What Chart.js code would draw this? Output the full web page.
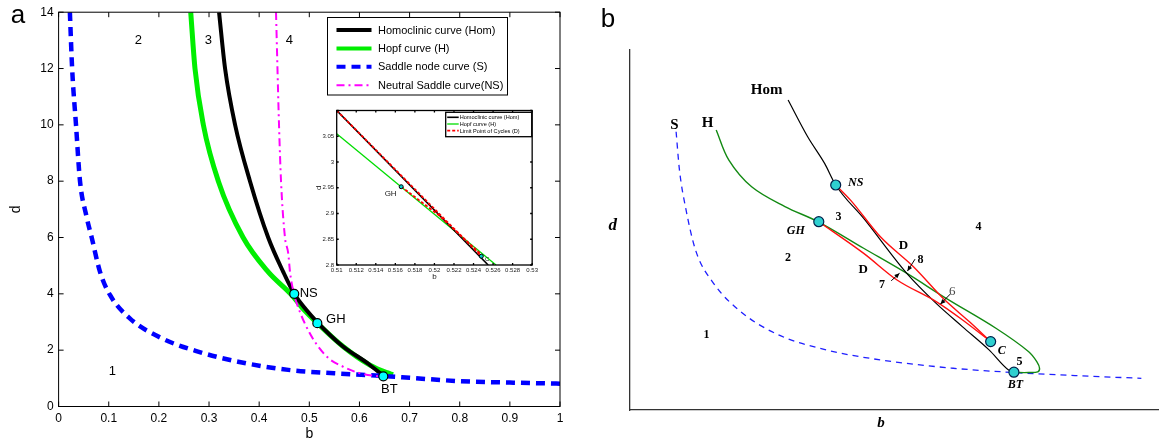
<!DOCTYPE html>
<html><head><meta charset="utf-8">
<script src="https://cdn.jsdelivr.net/npm/chart.js@4.4.1/dist/chart.umd.min.js"></script>
<style>
html,body{margin:0;padding:0;background:#fff;}
#wrap{position:relative;width:1165px;height:443px;overflow:hidden;background:#fff;}
canvas{position:absolute;}
</style></head><body>
<div id="wrap">
<canvas id="ca" width="580" height="443" style="left:0;top:0;width:580px;height:443px"></canvas>
<canvas id="ci" width="230" height="185" style="left:310px;top:100px;width:230px;height:185px"></canvas>
<canvas id="cb" width="575" height="443" style="left:590px;top:0;width:575px;height:443px"></canvas>
</div>
<script>
// ---------- Panel a : main bifurcation diagram (b, d) ----------
const homB   = [0.320, 0.332, 0.352, 0.3817, 0.418, 0.448, 0.470, 0.493, 0.516, 0.566, 0.619, 0.648];
const homD   = [14, 12, 10, 8, 6, 4.78, 4.0, 3.45, 2.99, 2.15, 1.50, 1.08];
const hopfB  = [0.2635, 0.272, 0.2887, 0.3186, 0.368, 0.418, 0.465, 0.490, 0.516, 0.568, 0.621, 0.655, 0.667];
const hopfD  = [14, 12, 10, 8, 6, 4.78, 3.96, 3.42, 2.96, 2.12, 1.47, 1.20, 1.13];
const saddleB = [0.0225, 0.027, 0.0347, 0.0427, 0.055, 0.066, 0.0826, 0.1025, 0.142, 0.206, 0.278, 0.358, 0.458, 0.55, 0.65, 0.70, 0.80, 0.90, 1.0];
const saddleD = [14, 12, 10, 8, 6.8, 6, 4.78, 3.96, 3.13, 2.42, 1.95, 1.59, 1.30, 1.18, 1.08, 1.02, 0.90, 0.85, 0.81];
const nsB    = [0.4336, 0.4396, 0.4436, 0.4515, 0.458, 0.4615, 0.468, 0.475, 0.501, 0.535, 0.568, 0.601, 0.634, 0.648];
const nsD    = [14, 10, 8, 6, 5.44, 4.78, 4.10, 3.66, 2.60, 1.77, 1.41, 1.18, 1.08, 1.06];
const specialNames = ['NS', 'GH', 'BT'];
const specialB = [0.470, 0.516, 0.6476];
const specialD = [4.0, 2.96, 1.07];
const specialLabelB = [0.4988, 0.553, 0.6596];
const specialLabelD = [4.02, 3.09, 0.61];
const regionNames = ['2', '3', '4', '1'];
const regionB = [0.159, 0.2986, 0.46, 0.107];
const regionD = [13.0, 13.0, 13.0, 1.235];
const seriesNamesA = ['Homoclinic curve (Hom)', 'Hopf curve (H)', 'Saddle node curve (S)', 'Neutral Saddle curve(NS)'];

// ---------- Inset (zoom near GH) ----------
const inHomB = [0.51, 0.5255],  inHomD = [3.1, 2.8];
const inHopfB = [0.51, 0.5263], inHopfD = [3.055, 2.8];
const inLpc1B = [0.51, 0.5248], inLpc1D = [3.1, 2.817];
const inLpc2B = [0.5166, 0.5205, 0.5248], inLpc2D = [2.952, 2.896, 2.82];
const inPtNames = ['GH', 'C'];
const inPtB = [0.5166, 0.5248], inPtD = [2.952, 2.817];
const inLabelB = [0.51552, 0.5254], inLabelD = [2.939, 2.811];
const seriesNamesInset = ['Homoclinic curve (Hom)', 'Hopf curve (H)', 'Limit Point of Cycles (D)'];

// ---------- Panel b : schematic (arbitrary units 0..100) ----------
const schSX = [8.72, 9.35, 10.6, 12.4, 15.8, 21.3, 28.2, 37.1, 47.4, 61.1, 72.7, 85.0, 96.7];
const schSY = [77.3, 66.7, 55.6, 44.4, 35.2, 26.9, 20.8, 16.7, 13.9, 11.6, 10.4, 9.5, 8.8];
const schHX = [16.3, 18.7, 23.0, 29.3, 35.7, 44.1, 52.3, 59.8, 69.2, 75.4, 76.95, 77.45, 77.1, 75.4, 73.5, 72.6];
const schHY = [77.8, 69.4, 62.0, 56.5, 52.2, 45.0, 38.0, 31.0, 22.7, 16.2, 13.4, 11.6, 10.6, 10.4, 10.4, 10.5];
const schHomX = [29.9, 33.6, 36.8, 38.9, 44.2, 52.3, 57.9, 62.9, 67.9, 71.6, 72.6];
const schHomY = [86.1, 75.9, 68.5, 62.5, 53.2, 38.0, 29.6, 23.1, 16.7, 11.1, 10.5];
const schD1X = [38.9, 41.7, 47.35, 53.6, 59.5, 64.2, 68.2];
const schD1Y = [62.5, 58.3, 48.1, 39.8, 30.6, 24.5, 19.0];
const schD2X = [35.7, 44.2, 50.5, 57.9, 62.9, 68.2];
const schD2Y = [52.3, 43.5, 36.1, 30.1, 25.0, 19.0];
const schPtX = [38.9, 35.7, 68.2, 72.6];
const schPtY = [62.5, 52.3, 19.0, 10.5];
const schLabelText = ['Hom', 'S', 'H', 'NS', 'GH', 'C', 'BT', '1', '2', '3', '4', '5', '7', '8', 'D', 'D', '6'];
const schLabelKind = ['big', 'big', 'big', 'ital', 'ital', 'ital', 'ital', 'num', 'num', 'num', 'num', 'num', 'num', 'num', 'dl', 'dl', 'thin'];
const schLabelX = [25.85, 8.41, 14.67, 42.67, 31.35, 70.28, 72.9, 14.45, 29.9, 39.44, 65.9, 73.64, 47.66, 54.95, 51.7, 44.1, 60.93];
const schLabelY = [88.9, 79.2, 79.6, 63.0, 49.8, 16.5, 6.9, 20.8, 42.3, 53.7, 50.9, 13.25, 34.7, 41.7, 45.6, 39.1, 32.9];
const arrowFromX = [53.9, 49.4, 60.56], arrowFromY = [41.9, 35.9, 32.2];
const arrowToX = [52.47, 50.97, 58.7],  arrowToY = [38.6, 37.97, 29.4];

// ---------- helpers ----------
const sans = '"Liberation Sans", Arial, Helvetica, sans-serif';
const serif = '"Liberation Serif", "Times New Roman", serif';
const pts = (xs, ys) => xs.map((x, i) => ({x: x, y: ys[i]}));
const fmt = v => String(parseFloat(Number(v).toFixed(4)));

function drawFrame(chart, tickLen, lw) {
  const {ctx, chartArea: a, scales: {x, y}} = chart;
  ctx.save();
  ctx.strokeStyle = '#000';
  ctx.lineWidth = lw;
  ctx.strokeRect(a.left, a.top, a.right - a.left, a.bottom - a.top);
  ctx.beginPath();
  x.ticks.forEach(t => {
    const px = x.getPixelForValue(t.value);
    ctx.moveTo(px, a.bottom); ctx.lineTo(px, a.bottom - tickLen);
    ctx.moveTo(px, a.top); ctx.lineTo(px, a.top + tickLen);
  });
  y.ticks.forEach(t => {
    const py = y.getPixelForValue(t.value);
    ctx.moveTo(a.left, py); ctx.lineTo(a.left + tickLen, py);
    ctx.moveTo(a.right, py); ctx.lineTo(a.right - tickLen, py);
  });
  ctx.stroke();
  ctx.restore();
}

function drawLegend(chart, box, rows, sample, font) {
  const ctx = chart.ctx;
  ctx.save();
  ctx.fillStyle = '#fff';
  ctx.fillRect(box.x, box.y, box.w, box.h);
  ctx.strokeStyle = '#000';
  ctx.lineWidth = box.lw;
  ctx.strokeRect(box.x, box.y, box.w, box.h);
  rows.forEach((ds, i) => {
    const yy = box.y + box.first + i * box.step;
    ctx.beginPath();
    ctx.strokeStyle = ds.borderColor;
    ctx.lineWidth = Math.min(ds.borderWidth, sample.maxW);
    ctx.setLineDash(ds.borderDash ? ds.borderDash.map(v => v * sample.dashScale) : []);
    ctx.moveTo(box.x + sample.x0, yy);
    ctx.lineTo(box.x + sample.x1, yy);
    ctx.stroke();
    ctx.setLineDash([]);
    ctx.fillStyle = '#000';
    ctx.font = font;
    ctx.textAlign = 'left';
    ctx.textBaseline = 'middle';
    ctx.fillText(ds.label, box.x + sample.tx, yy + 0.5);
  });
  ctx.restore();
}

function text(ctx, s, x, y, font, color, align) {
  ctx.save();
  ctx.font = font;
  ctx.fillStyle = color || '#000';
  ctx.textAlign = align || 'center';
  ctx.textBaseline = 'middle';
  ctx.fillText(s, x, y);
  ctx.restore();
}

// ---------- Chart a ----------
const lineBase = {showLine: true, pointRadius: 0, cubicInterpolationMode: 'monotone', fill: false, borderCapStyle: 'butt'};
new Chart(document.getElementById('ca'), {
  type: 'scatter',
  data: {datasets: [
    Object.assign({label: seriesNamesA[0], data: pts(homB, homD), borderColor: '#000000', borderWidth: 4, order: 4}, lineBase),
    Object.assign({label: seriesNamesA[1], data: pts(hopfB, hopfD), borderColor: '#00ee00', borderWidth: 5, order: 5}, lineBase),
    Object.assign({label: seriesNamesA[2], data: pts(saddleB, saddleD), borderColor: '#0000ff', borderWidth: 4.5, borderDash: [9, 6], order: 3}, lineBase),
    Object.assign({label: seriesNamesA[3], data: pts(nsB, nsD), borderColor: '#ff00ff', borderWidth: 2, borderDash: [8, 4, 2, 4], order: 2}, lineBase),
    {label: 'special points', data: pts(specialB, specialD), showLine: false, pointRadius: 4.5,
     pointBackgroundColor: '#00ffff', pointBorderColor: '#000', pointBorderWidth: 1.2, order: 1}
  ]},
  options: {
    responsive: false, animation: false, devicePixelRatio: 1,
    layout: {padding: {top: 12, right: 20, left: 0, bottom: 0}},
    plugins: {legend: {display: false}, tooltip: {enabled: false}},
    scales: {
      x: {type: 'linear', min: 0, max: 1,
          ticks: {stepSize: 0.1, callback: fmt, font: {family: sans, size: 12}, color: '#000', padding: 5, maxRotation: 0, autoSkip: false},
          grid: {display: false, drawTicks: false}, border: {display: false},
          title: {display: true, text: 'b', font: {family: sans, size: 14}, color: '#000', padding: 0},
          afterFit: s => { s.height = 36.5; }},
      y: {type: 'linear', min: 0, max: 14,
          ticks: {stepSize: 2, callback: fmt, font: {family: sans, size: 12}, color: '#000', padding: 5, autoSkip: false},
          grid: {display: false, drawTicks: false}, border: {display: false},
          title: {display: true, text: 'd', font: {family: sans, size: 14}, color: '#000', padding: {top: 8, bottom: 0}},
          afterFit: s => { s.width = 58.6; }}
    }
  },
  plugins: [{
    id: 'decorA',
    afterDatasetsDraw(chart) { drawFrame(chart, 5, 1); },
    afterDraw(chart) {
      const {ctx, scales: {x, y}} = chart;
      drawLegend(chart, {x: 327.5, y: 17.5, w: 180, h: 77.5, lw: 1, first: 12.5, step: 18.4},
        chart.data.datasets.slice(0, 4), {x0: 9, x1: 44, tx: 50.5, maxW: 4, dashScale: 1}, '11px ' + sans);
      regionNames.forEach((s, i) => text(ctx, s, x.getPixelForValue(regionB[i]), y.getPixelForValue(regionD[i]), '13px ' + sans));
      specialNames.forEach((s, i) => text(ctx, s, x.getPixelForValue(specialLabelB[i]), y.getPixelForValue(specialLabelD[i]), '13px ' + sans));
      text(ctx, 'a', 18, 16, '26px ' + sans);
    }
  }]
});

// ---------- Inset ----------
const thin = {showLine: true, pointRadius: 0, tension: 0, fill: false};
new Chart(document.getElementById('ci'), {
  type: 'scatter',
  data: {datasets: [
    Object.assign({label: seriesNamesInset[0], data: pts(inHomB, inHomD), borderColor: '#000', borderWidth: 1.6, order: 4}, thin),
    Object.assign({label: seriesNamesInset[1], data: pts(inHopfB, inHopfD), borderColor: '#00dd00', borderWidth: 1.3, order: 5}, thin),
    Object.assign({label: seriesNamesInset[2], data: pts(inLpc1B, inLpc1D), borderColor: '#ff0000', borderWidth: 1.8, borderDash: [3, 2], order: 3}, thin),
    Object.assign({label: 'D2', data: pts(inLpc2B, inLpc2D), borderColor: '#ff0000', borderWidth: 1.8, borderDash: [3, 2], order: 3}, thin),
    {label: 'pts', data: pts(inPtB, inPtD), showLine: false, pointRadius: 2, pointBackgroundColor: '#00cccc', pointBorderColor: '#000', pointBorderWidth: 1, order: 1}
  ]},
  options: {
    responsive: false, animation: false, devicePixelRatio: 1,
    layout: {padding: {top: 10.5, right: 6.7, left: 0, bottom: 0}},
    plugins: {legend: {display: false}, tooltip: {enabled: false}},
    scales: {
      x: {type: 'linear', min: 0.51, max: 0.53,
          ticks: {stepSize: 0.002, callback: fmt, font: {family: sans, size: 6}, color: '#222', padding: 2, maxRotation: 0, autoSkip: false},
          grid: {display: false, drawTicks: false}, border: {display: false},
          title: {display: true, text: 'b', font: {family: sans, size: 8}, color: '#222', padding: {top: 0, bottom: 3}},
          afterFit: s => { s.height = 20; }},
      y: {type: 'linear', min: 2.8, max: 3.1,
          ticks: {stepSize: 0.05, callback: v => (v > 3.09 ? '' : fmt(v)), font: {family: sans, size: 6}, color: '#222', padding: 2.5, autoSkip: false},
          grid: {display: false, drawTicks: false}, border: {display: false},
          title: {display: true, text: 'd', font: {family: sans, size: 8}, color: '#222', padding: {top: 4, bottom: 0}},
          afterFit: s => { s.width = 26.7; }}
    }
  },
  plugins: [{
    id: 'decorI',
    beforeDatasetsDraw(chart) {
      const {ctx, chartArea: a} = chart;
      ctx.save(); ctx.fillStyle = '#fff'; ctx.fillRect(a.left, a.top, a.right - a.left, a.bottom - a.top); ctx.restore();
    },
    afterDatasetsDraw(chart) { drawFrame(chart, 2, 1.3); },
    afterDraw(chart) {
      const {ctx, scales: {x, y}} = chart;
      drawLegend(chart, {x: 135.7, y: 12.3, w: 86, h: 24.4, lw: 1.3, first: 5, step: 6.7},
        chart.data.datasets.slice(0, 3), {x0: 1.5, x1: 13, tx: 14, maxW: 1.8, dashScale: 1}, '5.6px ' + sans);
      inPtNames.forEach((s, i) => text(ctx, s, x.getPixelForValue(inLabelB[i]), y.getPixelForValue(inLabelD[i]), (i === 0 ? '8px ' : '6px ') + sans, '#222'));
    }
  }]
});

// ---------- Chart b (schematic) ----------
const lb = {showLine: true, pointRadius: 0, cubicInterpolationMode: 'monotone', fill: false};
const fontsB = {big: 'bold 15px ' + serif, ital: 'italic bold 12px ' + serif, num: 'bold 12px ' + serif, dl: 'bold 13px ' + serif, thin: '13px ' + serif};
new Chart(document.getElementById('cb'), {
  type: 'scatter',
  data: {datasets: [
    Object.assign({label: 'S', data: pts(schSX, schSY), borderColor: '#1f1fff', borderWidth: 1.3, borderDash: [6, 5], order: 5}, lb),
    {label: 'H', data: pts(schHX, schHY), borderColor: '#138a13', borderWidth: 1.4, order: 4, showLine: true, pointRadius: 0, tension: 0.35, fill: false},
    Object.assign({label: 'Hom', data: pts(schHomX, schHomY), borderColor: '#000', borderWidth: 1.2, order: 3}, lb),
    Object.assign({label: 'D (NS-C)', data: pts(schD1X, schD1Y), borderColor: '#ff1010', borderWidth: 1.4, order: 2}, lb),
    Object.assign({label: 'D (GH-C)', data: pts(schD2X, schD2Y), borderColor: '#ff1010', borderWidth: 1.4, order: 2}, lb),
    {label: 'points', data: pts(schPtX, schPtY), showLine: false, pointRadius: 5, pointBackgroundColor: '#2fd0d0', pointBorderColor: '#00204a', pointBorderWidth: 1.2, order: 1}
  ]},
  options: {
    responsive: false, animation: false, devicePixelRatio: 1,
    layout: {padding: {top: 50, right: 0, left: 0, bottom: 0}},
    plugins: {legend: {display: false}, tooltip: {enabled: false}},
    scales: {
      x: {type: 'linear', min: 0, max: 100, ticks: {display: false}, grid: {display: false, drawTicks: false},
          border: {display: true, color: '#333', width: 1.3}, afterFit: s => { s.height = 33; }},
      y: {type: 'linear', min: 0, max: 100, ticks: {display: false}, grid: {display: false, drawTicks: false},
          border: {display: true, color: '#333', width: 1.3}, afterFit: s => { s.width = 40; }}
    }
  },
  plugins: [{
    id: 'decorB',
    afterDraw(chart) {
      const {ctx, scales: {x, y}} = chart;
      ctx.save();
      ctx.strokeStyle = '#000'; ctx.fillStyle = '#000'; ctx.lineWidth = 1;
      arrowFromX.forEach((fx, i) => {
        const x0 = x.getPixelForValue(fx), y0 = y.getPixelForValue(arrowFromY[i]);
        const x1 = x.getPixelForValue(arrowToX[i]), y1 = y.getPixelForValue(arrowToY[i]);
        ctx.beginPath(); ctx.moveTo(x0, y0); ctx.lineTo(x1, y1); ctx.stroke();
        const ang = Math.atan2(y1 - y0, x1 - x0), L = 5, W = 2.3;
        ctx.beginPath();
        ctx.moveTo(x1, y1);
        ctx.lineTo(x1 - L * Math.cos(ang) + W * Math.sin(ang), y1 - L * Math.sin(ang) - W * Math.cos(ang));
        ctx.lineTo(x1 - L * Math.cos(ang) - W * Math.sin(ang), y1 - L * Math.sin(ang) + W * Math.cos(ang));
        ctx.closePath(); ctx.fill();
      });
      ctx.restore();
      schLabelText.forEach((s, i) => {
        const k = schLabelKind[i];
        text(ctx, s, x.getPixelForValue(schLabelX[i]), y.getPixelForValue(schLabelY[i]), fontsB[k], k === 'thin' ? '#444' : '#000');
      });
      text(ctx, 'd', 22.7, 225.7, 'italic bold 17px ' + serif);
      text(ctx, 'b', 291, 422.7, 'italic bold 15px ' + serif);
      text(ctx, 'b', 18, 20, '26px ' + sans);
    }
  }]
});
</script>
</body></html>
